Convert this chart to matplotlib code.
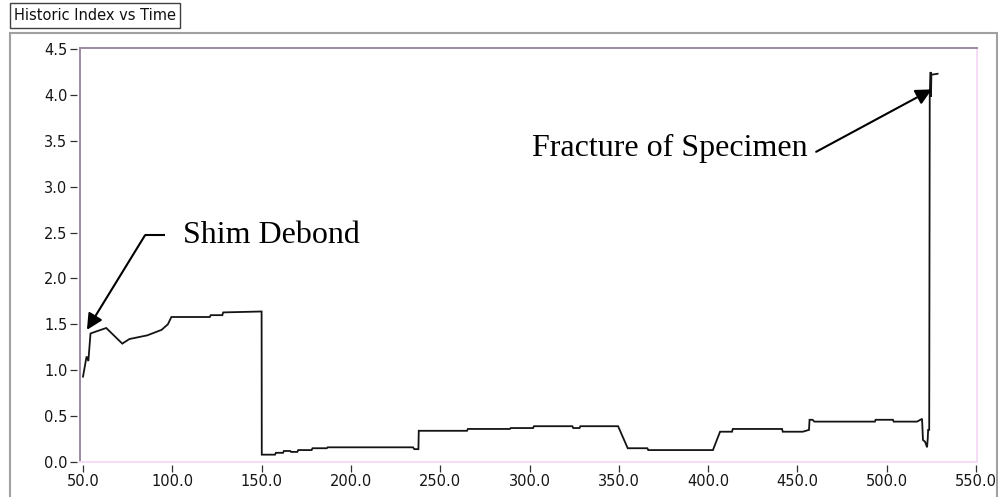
"""
Historic Index vs Time - recreation of a LabVIEW-style monitoring graph
with two hand-drawn annotations (shim debond, specimen fracture).
"""

import matplotlib
matplotlib.use("Agg")
import matplotlib.pyplot as plt
from matplotlib.patches import Rectangle
from matplotlib.path import Path

# Time (x) and historic index (y)
TIME = [
    50.0, 52.0, 53.0, 54.2, 57.0, 63.0, 72.0, 76.0, 86.0, 94.0, 97.5, 99.5,
    121.0, 121.5, 128.0, 128.5, 150.0, 150.1, 157.5, 158.0, 162.0, 162.5,
    166.0, 166.5, 170.0, 170.5, 178.0, 178.5, 186.5, 187.0, 234.8, 235.5,
    237.8, 238.0, 265.0, 265.5, 289.0, 289.5, 302.0, 302.5, 324.0, 324.5,
    328.0, 328.5, 349.6, 355.0, 366.0, 366.5, 402.7, 406.7, 413.4, 413.8,
    441.4, 441.8, 453.0, 456.5, 456.8, 458.5, 459.5, 493.4, 493.8, 503.5,
    503.9, 517.0, 519.8, 520.3, 521.5, 522.6, 523.0, 523.2, 523.8, 524.1,
    524.6, 524.8, 525.0, 528.5,
]
INDEX = [
    0.93, 1.15, 1.10, 1.40, 1.42, 1.46, 1.29, 1.34, 1.38, 1.44, 1.50, 1.58,
    1.58, 1.60, 1.60, 1.63, 1.64, 0.08, 0.08, 0.10, 0.10, 0.12,
    0.12, 0.11, 0.11, 0.13, 0.13, 0.15, 0.15, 0.16, 0.16, 0.14,
    0.14, 0.34, 0.34, 0.36, 0.36, 0.37, 0.37, 0.39, 0.39, 0.37,
    0.37, 0.39, 0.39, 0.15, 0.15, 0.13, 0.13, 0.33, 0.33, 0.36,
    0.36, 0.33, 0.33, 0.35, 0.46, 0.46, 0.44, 0.44, 0.46, 0.46,
    0.44, 0.44, 0.47, 0.24, 0.22, 0.16, 0.26, 0.35, 0.35, 4.00,
    4.25, 3.98, 4.22, 4.23,
]

X_TICKS = [50, 100, 150, 200, 250, 300, 350, 400, 450, 500, 550]
Y_TICKS = [0.0, 0.5, 1.0, 1.5, 2.0, 2.5, 3.0, 3.5, 4.0, 4.5]

# annotation anchors (data coords)
SHIM_TIP = (52.2, 1.44)
SHIM_BEND = (84.7, 2.47)
SHIM_TEXT = (106.0, 2.47)
FRACTURE_TIP = (525.3, 4.06)
FRACTURE_TAIL = (460.5, 3.38)
FRACTURE_TEXT = (456.0, 3.42)

LINE = "#141414"
FRAME = "#a0a0a0"
SPINE_DARK = "#9c8aa2"
SPINE_LIGHT = "#f6dcf6"

W, H = 998, 497
fig = plt.figure(figsize=(W / 100, H / 100), dpi=100)

# outer grey panel frame and title box
fig.add_artist(Rectangle((10 / W, -0.05), 987 / W, (H - 33) / H + 0.05,
                         transform=fig.transFigure, fill=False,
                         edgecolor=FRAME, linewidth=1.5))
fig.add_artist(Rectangle((10 / W, (H - 28) / H), 170 / W, 25 / H,
                         transform=fig.transFigure, facecolor="white",
                         edgecolor="#404040", linewidth=1.0))
fig.text(14 / W, (H - 15.5) / H, "Historic Index vs Time",
         fontsize=10.5, family="DejaVu Sans", va="center", ha="left",
         color="#101010")

ax = fig.add_axes([80 / W, 35 / H, 897 / W, 414 / H])
ax.plot(TIME, INDEX, color=LINE, linewidth=1.3, solid_joinstyle="miter")

ax.set_xlim(48.32, 550.56)
ax.set_ylim(0.0, 4.511)
ax.set_xticks(X_TICKS)
ax.set_xticklabels([f"{v:.1f}" for v in X_TICKS])
ax.set_yticks(Y_TICKS)
ax.set_yticklabels([f"{v:.1f}" for v in Y_TICKS])
ax.tick_params(axis="both", direction="out", length=7, width=0.9, pad=2,
               color="#303030", labelsize=10.5, labelcolor="#151515")

# LabVIEW-style ticks: short dashes that stand a few pixels off the axis
for tick in ax.yaxis.get_major_ticks():
    tick.tick1line.set_marker(Path([(-1.0, 0.0), (-0.31, 0.0)]))
    tick.tick1line.set_markersize(14)
for tick in ax.xaxis.get_major_ticks():
    tick.tick1line.set_marker(Path([(0.0, -1.0), (0.0, -0.31)]))
    tick.tick1line.set_markersize(14)

for side in ("left", "top"):
    ax.spines[side].set_color(SPINE_DARK)
    ax.spines[side].set_linewidth(1.4)
for side in ("right", "bottom"):
    ax.spines[side].set_color(SPINE_LIGHT)
    ax.spines[side].set_linewidth(1.4)

# "Shim Debond": text, short horizontal leader, then diagonal arrow
ax.text(*SHIM_TEXT, "Shim Debond", family="Liberation Serif", fontsize=23,
        ha="left", va="center", color="black")
ax.plot([SHIM_BEND[0], SHIM_BEND[0] + 11.2], [SHIM_BEND[1], SHIM_BEND[1]],
        color="black", linewidth=1.5, solid_capstyle="butt")
ax.annotate("", xy=SHIM_TIP, xytext=SHIM_BEND,
            arrowprops=dict(arrowstyle="-|>", color="black", lw=1.5,
                            mutation_scale=24, shrinkA=0, shrinkB=0))

# "Fracture of Specimen"
ax.text(*FRACTURE_TEXT, "Fracture of Specimen", family="Liberation Serif",
        fontsize=23, ha="right", va="center", color="black")
ax.annotate("", xy=FRACTURE_TIP, xytext=FRACTURE_TAIL,
            arrowprops=dict(arrowstyle="-|>", color="black", lw=1.5,
                            mutation_scale=24, shrinkA=0, shrinkB=0))

fig.savefig("out.png", dpi=100)
plt.close(fig)
